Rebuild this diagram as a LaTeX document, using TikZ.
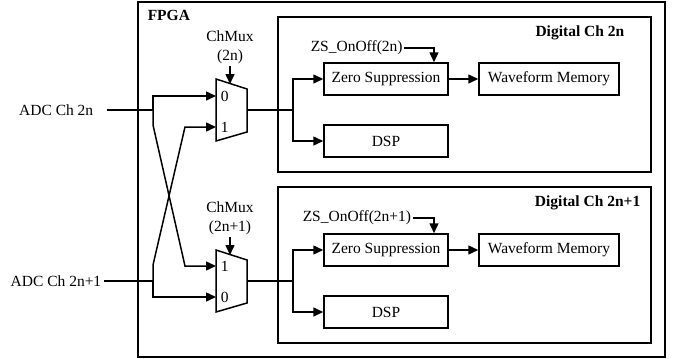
\documentclass[tikz,border=0pt]{standalone}
\usepackage{fontspec}
\setmainfont{Liberation Serif}
\usetikzlibrary{arrows.meta}

\begin{document}
\begin{tikzpicture}[x=1pt,y=-1pt,line width=1.5pt,>={Triangle[length=10pt,width=9pt]}]
    \tikzstyle{every node}+=[inner sep=0pt,font=\fontsize{15.5}{19}\selectfont]
    \tikzstyle{blk}=[draw,line width=1.5pt,minimum height=32pt,minimum width=124pt]
    \tikzstyle{bold}=[font=\fontsize{15.5}{19}\selectfont\bfseries]
    \useasboundingbox (0,0) rectangle (681,359);
    \draw [black] (138,2) rectangle (665,357);
    \node [bold,anchor=west] (fpga) at (147,15) {FPGA};
    \draw [black] (278,17) rectangle (651,172);
    \node [bold,anchor=east] (dig0) at (625,33) {Digital Ch 2n};
    \draw [black] (278,187) rectangle (651,343);
    \node [bold,anchor=east] (dig1) at (641,203) {Digital Ch 2n+1};
    \node [blk] (zs0) at (386,79) {Zero Suppression};
    \node [blk] (dsp0) at (386,141) {DSP};
    \node [blk,minimum width=140pt] (wm0) at (549,79) {Waveform Memory};
    \node [blk] (zs1) at (386,250) {Zero Suppression};
    \node [blk] (dsp1) at (386,312) {DSP};
    \node [blk,minimum width=140pt] (wm1) at (549,250) {Waveform Memory};
    \draw [black] (216,79) -- (247,89) -- (247,132) -- (216,141) -- cycle;
    \coordinate (m0i0) at (216,96);
    \coordinate (m0i1) at (216,127);
    \coordinate (m0o) at (247,110);
    \coordinate (m0c) at (230,84);
    \node [anchor=west] (m0a) at (220,96) {0};
    \node [anchor=west] (m0b) at (220,127) {1};
    \draw [black] (216,250) -- (247,260) -- (247,303) -- (216,312) -- cycle;
    \coordinate (m1i1) at (216,266);
    \coordinate (m1i0) at (216,297);
    \coordinate (m1o) at (247,281);
    \coordinate (m1c) at (230,255);
    \node [anchor=west] (m1a) at (220,266) {1};
    \node [anchor=west] (m1b) at (220,297) {0};
    \node [align=center,inner sep=1pt] (ctl0) at (230,47.5) {ChMux\\(2n)};
    \draw [->] (ctl0.south) -- (m0c);
    \node [align=center,inner sep=1pt] (ctl1) at (230,218.5) {ChMux\\(2n+1)};
    \draw [->] (ctl1.south) -- (m1c);
    \node [anchor=east] (adc0) at (94,110) {ADC Ch 2n};
    \node [anchor=east] (adc1) at (102,281) {ADC Ch 2n+1};
    \coordinate (sp0) at (153,110);
    \coordinate (sp1) at (153,281);
    \draw ([xshift=13pt]adc0.east) -- (sp0);
    \draw ([xshift=2pt]adc1.east) -- (sp1);
    \draw [->] (sp0) |- (m0i0);
    \draw [->] (sp0) -- ++(0,15) -- ++(32,141) -- (m1i1);
    \draw [->] (sp1) |- (m1i0);
    \draw [->] (sp1) -- ++(0,-16) -- ++(32,-138) -- (m0i1);
    \coordinate (br0) at (293,110);
    \coordinate (br1) at (293,281);
    \draw (m0o) -- (br0);
    \draw [->] (br0) |- (zs0.west);
    \draw [->] (br0) |- (dsp0.west);
    \draw (m1o) -- (br1);
    \draw [->] (br1) |- (zs1.west);
    \draw [->] (br1) |- (dsp1.west);
    \draw [->] (zs0) -- (wm0);
    \draw [->] (zs1) -- (wm1);
    \node [anchor=west,inner xsep=1pt] (zsc0) at (309,48) {ZS\_OnOff(2n)};
    \draw [->] (zsc0.east) -| ([xshift=48pt]zs0.north);
    \node [anchor=west,inner xsep=1pt] (zsc1) at (301,218) {ZS\_OnOff(2n+1)};
    \draw [->] (zsc1.east) -| ([xshift=48pt]zs1.north);
\end{tikzpicture}
\end{document}
